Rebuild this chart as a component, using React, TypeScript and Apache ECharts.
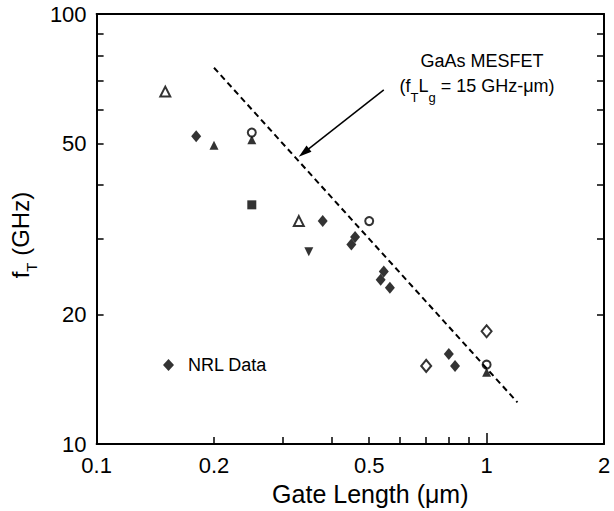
import React, { useEffect, useRef } from 'react';
import * as echarts from 'echarts';

const FONT = '"Liberation Sans", Arial, Helvetica, sans-serif';

// Axis tick / label values
const xLabelValues = [0.1, 0.2, 0.5, 1, 2];
const xMinorTicks = [0.2, 0.3, 0.4, 0.5, 0.6, 0.7, 0.8, 0.9];
const xMajorTicks = [1];
const yLabelValues = [10, 20, 50, 100];
const yTicks = [20, 30, 40, 50, 60, 70, 80, 90];

// Data [gate length (um), fT (GHz)]
const nrlData = [
  [0.18, 52], [0.38, 33], [0.46, 30.3], [0.45, 29.1], [0.545, 25.2],
  [0.535, 24.1], [0.565, 23.1], [0.8, 16.2], [0.83, 15.2],
];
const openTriangle = [[0.15, 66], [0.33, 33]];
const filledTriangle = [[0.2, 49.5], [0.25, 51], [1.0, 14.7]];
const openCircle = [[0.25, 53], [0.5, 33], [1.0, 15.3]];
const filledSquare = [[0.25, 36]];
const invTriangle = [[0.35, 28]];
const openDiamond = [[1.0, 18.3], [0.7, 15.2]];
const mesfetLine = [[0.2, 75], [1.2, 12.5]];
const arrowFrom = [0.545, 66.6];
const arrowTo = [0.34, 47.6];

const fmt = (v: number) => String(Number(Number(v).toPrecision(3)));

const K = '#000';

export default function App() {
  const ref = useRef<HTMLDivElement>(null);
  useEffect(() => {
    if (!ref.current) return;
    const chart = echarts.init(ref.current, null, { renderer: 'svg' });
    const axisLine = { show: true, lineStyle: { color: K, width: 2 } };
    const scatterBase = { type: 'scatter', xAxisIndex: 0, yAxisIndex: 0, silent: true };
    chart.setOption({
      animation: false,
      backgroundColor: '#fff',
      grid: { left: 95, right: 10, top: 14, bottom: 66, containLabel: false },
      legend: {
        data: ['NRL Data'],
        left: 158,
        top: 351,
        icon: 'diamond',
        itemWidth: 11,
        itemHeight: 12,
        itemStyle: { color: K },
        textStyle: { fontSize: 18, fontFamily: FONT, color: K, padding: [0, 0, 0, 9] },
        selectedMode: false,
      },
      xAxis: [
        {
          type: 'log', logBase: 10, min: 0.1, max: 2, position: 'bottom',
          axisLine,
          axisTick: { show: true, inside: true, length: 7, customValues: xMinorTicks, lineStyle: { color: K, width: 1.5 } },
          axisLabel: { customValues: xLabelValues, formatter: fmt, fontSize: 22, fontFamily: FONT, color: K, margin: 10 },
          splitLine: { show: false },
          minorTick: { show: false },
          name: 'Gate Length (μm)', nameLocation: 'middle', nameGap: 33,
          nameTextStyle: { fontSize: 25, fontFamily: FONT, color: K, padding: [0, 0, 0, 40] },
        },
        {
          type: 'log', logBase: 10, min: 0.1, max: 2, position: 'bottom',
          axisLine: { show: false },
          axisTick: { show: true, inside: true, length: 11, customValues: xMajorTicks, lineStyle: { color: K, width: 1.5 } },
          axisLabel: { show: false },
          splitLine: { show: false },
        },
        {
          type: 'log', logBase: 10, min: 0.1, max: 2, position: 'top',
          axisLine,
          axisTick: { show: false },
          axisLabel: { show: false },
          splitLine: { show: false },
        },
      ],
      yAxis: [
        {
          type: 'log', logBase: 10, min: 10, max: 100, position: 'left',
          axisLine,
          axisTick: { show: true, inside: true, length: 7, customValues: yTicks, lineStyle: { color: K, width: 1.5 } },
          axisLabel: { customValues: yLabelValues, formatter: fmt, fontSize: 22, fontFamily: FONT, color: K, margin: 10 },
          splitLine: { show: false },
          name: '{a|f}{s|T}{a| (GHz)}', nameLocation: 'middle', nameGap: 46, nameRotate: 90,
          nameTextStyle: {
            fontFamily: FONT, color: K, padding: [0, 12, 0, 0],
            rich: {
              a: { fontSize: 24, fontFamily: FONT, color: K, lineHeight: 31, verticalAlign: 'top' },
              s: { fontSize: 15, fontFamily: FONT, color: K, lineHeight: 15, verticalAlign: 'bottom' },
            },
          },
        },
        {
          type: 'log', logBase: 10, min: 10, max: 100, position: 'right',
          axisLine,
          axisTick: { show: true, inside: true, length: 7, customValues: yTicks, lineStyle: { color: K, width: 1.5 } },
          axisLabel: { show: false },
          splitLine: { show: false },
        },
      ],
      graphic: [
        {
          type: 'text', x: 482, y: 61,
          style: { text: 'GaAs MESFET', fontSize: 18, fontFamily: FONT, fill: K, align: 'center', verticalAlign: 'middle' },
        },
        {
          type: 'text', x: 477, y: 90,
          style: {
            text: '{a|(f}{s|T}{a|L}{s|g}{a| = 15 GHz-μm)}',
            fontFamily: FONT, fill: K, textFill: K, color: K, align: 'center', verticalAlign: 'middle',
            rich: {
              a: { fontSize: 18, fontFamily: FONT, fill: K, textFill: K, color: K, lineHeight: 27, verticalAlign: 'top' },
              s: { fontSize: 13, fontFamily: FONT, fill: K, textFill: K, color: K, lineHeight: 13, verticalAlign: 'bottom' },
            },
          },
        },
      ],
      series: [
        {
          name: 'GaAs MESFET', type: 'line', xAxisIndex: 0, yAxisIndex: 0, silent: true,
          data: mesfetLine, symbol: 'none',
          lineStyle: { color: K, width: 2, type: [6, 4] },
          markLine: {
            silent: true, animation: false,
            symbol: ['none', 'triangle'], symbolSize: [8, 13],
            lineStyle: { color: K, width: 1.5, type: 'solid' },
            itemStyle: { color: K },
            label: { show: false },
            data: [[{ coord: arrowFrom }, { coord: arrowTo }]],
          },
        },
        { ...scatterBase, name: 'NRL Data', data: nrlData, symbol: 'diamond', symbolSize: [10, 12], itemStyle: { color: K } },
        { ...scatterBase, name: 'Open triangle', data: openTriangle, symbol: 'emptyTriangle', symbolSize: 10, itemStyle: { color: K, borderColor: K, borderWidth: 2 } },
        { ...scatterBase, name: 'Filled triangle', data: filledTriangle, symbol: 'triangle', symbolSize: 9, itemStyle: { color: K } },
        { ...scatterBase, name: 'Open circle', data: openCircle, symbol: 'emptyCircle', symbolSize: 8, itemStyle: { color: K, borderColor: K, borderWidth: 2 } },
        { ...scatterBase, name: 'Filled square', data: filledSquare, symbol: 'rect', symbolSize: 9, itemStyle: { color: K } },
        { ...scatterBase, name: 'Inverted triangle', data: invTriangle, symbol: 'triangle', symbolRotate: 180, symbolSize: 9, itemStyle: { color: K } },
        { ...scatterBase, name: 'Open diamond', data: openDiamond, symbol: 'emptyDiamond', symbolSize: [10, 12], itemStyle: { color: K, borderColor: K, borderWidth: 2 } },
      ],
    });
    return () => chart.dispose();
  }, []);
  return <div ref={ref} style={{ width: 614, height: 511, position: 'absolute', left: 0, top: 0 }} />;
}
